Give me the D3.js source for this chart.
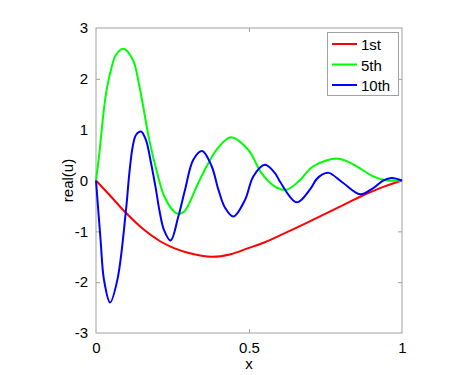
<!DOCTYPE html>
<html>
<head>
<meta charset="utf-8">
<script src="https://d3js.org/d3.v7.min.js"></script>
<style>
body { margin: 0; background: #fff; }
text { font-family: "Liberation Sans", Arial, sans-serif; }
</style>
</head>
<body>
<div id="chart"></div>
<script>
// values
const names = ["1st", "5th", "10th"];
const colors = ["#ff0000", "#00ff00", "#0000ff"];

const xFirst = [0, 0.048, 0.092, 0.157, 0.211, 0.255, 0.30, 0.378, 0.44, 0.498, 0.55, 0.612, 0.71, 0.819, 0.863, 0.928, 1.0];
const yFirst = [0, -0.31, -0.60, -0.97, -1.20, -1.33, -1.42, -1.50, -1.45, -1.33, -1.22, -1.05, -0.77, -0.45, -0.32, -0.15, 0];

const xFifth = [0, 0.011, 0.022, 0.033, 0.049, 0.065, 0.089, 0.12, 0.142, 0.174, 0.20, 0.223, 0.255, 0.271, 0.29, 0.334, 0.367, 0.40, 0.441, 0.498, 0.541, 0.585, 0.623, 0.667, 0.71, 0.792, 0.852, 0.906, 0.95, 1.0];
const yFifth = [0, 0.54, 1.19, 1.72, 2.18, 2.47, 2.59, 2.38, 1.85, 0.80, 0.145, -0.31, -0.61, -0.66, -0.60, -0.05, 0.34, 0.65, 0.85, 0.60, 0.145, -0.12, -0.18, 0.01, 0.28, 0.43, 0.28, 0.08, 0.0, 0];

const xTenth = [0, 0.015, 0.026, 0.046, 0.07, 0.098, 0.109, 0.12, 0.131, 0.147, 0.163, 0.18, 0.196, 0.207, 0.222, 0.244, 0.269, 0.291, 0.318, 0.347, 0.378, 0.40, 0.422, 0.449, 0.487, 0.514, 0.552, 0.585, 0.601, 0.656, 0.70, 0.72, 0.74, 0.761, 0.808, 0.863, 0.906, 0.939, 0.966, 1.0];
const yTenth = [0, -1.17, -1.95, -2.40, -1.95, -0.58, 0.145, 0.67, 0.90, 0.965, 0.80, 0.34, -0.18, -0.58, -0.97, -1.18, -0.71, -0.18, 0.41, 0.58, 0.28, -0.18, -0.54, -0.71, -0.38, 0.08, 0.31, 0.145, -0.02, -0.43, -0.17, 0.02, 0.12, 0.15, -0.05, -0.27, -0.15, 0, 0.05, 0];

const xTicks = [0, 0.5, 1];
const yTicks = [-3, -2, -1, 0, 1, 2, 3];

const series = [
  xFirst.map((x, i) => ({ x: x, y: yFirst[i] })),
  xFifth.map((x, i) => ({ x: x, y: yFifth[i] })),
  xTenth.map((x, i) => ({ x: x, y: yTenth[i] }))
];

const svg = d3.select("#chart").append("svg")
  .attr("width", 471)
  .attr("height", 375);

const margin = { top: 28, right: 69, bottom: 42, left: 96 };
const width = 471 - margin.left - margin.right;
const height = 375 - margin.top - margin.bottom;
const axisColor = "#a0a0a0";
const fontSize = "15px";

const chart = svg.append("g").attr("transform", `translate(${margin.left},${margin.top})`);

const xScale = d3.scaleLinear().domain([0, 1]).range([0, width]);
const yScale = d3.scaleLinear().domain([-3, 3]).range([height, 0]);

// box
chart.append("rect")
  .attr("width", width)
  .attr("height", height)
  .attr("fill", "none")
  .attr("stroke", axisColor);

// axes, ticks pointing inward
function styleAxis(g) {
  g.select(".domain").remove();
  g.selectAll(".tick line").attr("stroke", axisColor);
  g.selectAll(".tick text").attr("fill", "#000").style("font-size", fontSize)
    .style("font-family", "'Liberation Sans', Arial, sans-serif");
}

chart.append("g")
  .attr("transform", `translate(0,${height})`)
  .call(d3.axisBottom(xScale).tickValues(xTicks).tickFormat(d => String(d)).tickSizeInner(-4).tickPadding(9))
  .call(styleAxis);
chart.append("g")
  .call(d3.axisTop(xScale).tickValues(xTicks).tickFormat("").tickSizeInner(-4))
  .call(styleAxis);
chart.append("g")
  .call(d3.axisLeft(yScale).tickValues(yTicks).tickFormat(d => String(d)).tickSizeInner(-4).tickPadding(8))
  .call(styleAxis);
chart.append("g")
  .attr("transform", `translate(${width},0)`)
  .call(d3.axisRight(yScale).tickValues(yTicks).tickFormat("").tickSizeInner(-4))
  .call(styleAxis);

// remove the end ticks that sit on the box
chart.selectAll(".tick line").filter(d => d === 0 || d === 1 || d === -3 || d === 3).remove();

// lines
const line = d3.line()
  .x(d => xScale(d.x))
  .y(d => yScale(d.y))
  .curve(d3.curveCatmullRom.alpha(0.5));

chart.append("g")
  .selectAll("path")
  .data(series)
  .enter().append("path")
  .attr("fill", "none")
  .attr("stroke", (d, i) => colors[i])
  .attr("stroke-width", 2)
  .attr("stroke-linejoin", "round")
  .attr("d", line);

// axis labels
svg.append("text")
  .attr("x", margin.left + width / 2)
  .attr("y", 369)
  .attr("text-anchor", "middle")
  .style("font-size", fontSize)
  .text("x");

svg.append("text")
  .attr("transform", `translate(73,${margin.top + height / 2}) rotate(-90)`)
  .attr("text-anchor", "middle")
  .style("font-size", fontSize)
  .text("real(u)");

// legend
const legend = svg.append("g");
legend.append("rect")
  .attr("x", 327.5).attr("y", 32.5)
  .attr("width", 71).attr("height", 63)
  .attr("fill", "#fff")
  .attr("stroke", axisColor);

names.forEach((n, i) => {
  const cy = 44 + i * 20.5;
  legend.append("line")
    .attr("x1", 332).attr("x2", 357)
    .attr("y1", cy).attr("y2", cy)
    .attr("stroke", colors[i])
    .attr("stroke-width", 2);
  legend.append("text")
    .attr("x", 361).attr("y", cy + 6)
    .style("font-size", fontSize)
    .text(n);
});
</script>
</body>
</html>
